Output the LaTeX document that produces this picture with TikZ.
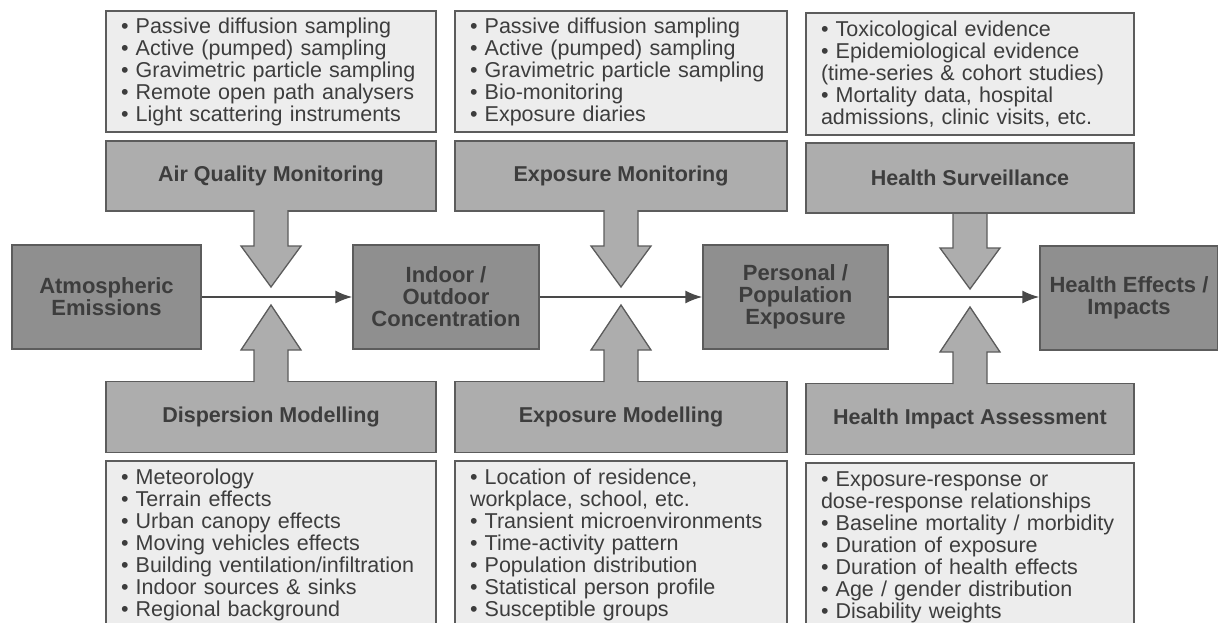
\documentclass[tikz,border=0pt]{standalone}
\usepackage{fontspec}
\setmainfont{Liberation Sans}
\usetikzlibrary{arrows.meta}
\definecolor{listgray}{gray}{0.93}
\definecolor{titlegray}{gray}{0.68}
\definecolor{stagegray}{gray}{0.56}
\definecolor{edgegray}{gray}{0.36}
\definecolor{inkgray}{gray}{0.24}
\tikzset{
  >={Latex[length=17pt,width=13pt]},
}
\tikzstyle{every node}=[text=inkgray]
\tikzstyle{listbox}=[draw=edgegray,fill=listgray,line width=1.3pt,align=left,
  inner xsep=15pt,inner ysep=0pt,font=\fontsize{21.5}{22}\selectfont]
\tikzstyle{titlebox}=[draw=edgegray,fill=titlegray,line width=1.3pt,
  font=\fontsize{21.5}{22}\selectfont\bfseries]
\tikzstyle{stage}=[draw=edgegray,fill=stagegray,line width=1.3pt,align=center,
  minimum height=104pt,font=\fontsize{22}{22}\selectfont\bfseries]
\tikzstyle{block}=[draw=edgegray,fill=titlegray,line width=1.3pt,line join=miter]
\tikzstyle{flow}=[line width=2pt,draw=edgegray!80!black,->]

\begin{document}
\begin{tikzpicture}[x=1pt,y=-1pt]
    \useasboundingbox (0,0) rectangle (1218,623);
    \clip (0,0) rectangle (1218,623);
    % main chain
    \node[stage,minimum width=189pt] (emis) at (106.5,297) {Atmospheric\\Emissions};
    \node[stage,minimum width=186pt] (conc) at (446,297) {Indoor /\\Outdoor\\Concentration};
    \node[stage,minimum width=185pt] (expo) at (795.5,297) {Personal /\\Population\\Exposure};
    \node[stage,minimum width=178pt] (hlth) at (1129,298) {Health Effects /\\Impacts};
    \draw[flow] (emis) -- (conc);
    \draw[flow] (conc) -- (expo);
    \draw[flow] (expo.east) -- (expo.east -| hlth.west);
    % monitoring side
    \node[listbox,text width=300pt,minimum height=121pt] (aqmlist) at (271,71.5) {%
      • Passive diffusion sampling\\
      • Active (pumped) sampling\\
      • Gravimetric particle sampling\\
      • Remote open path analysers\\
      • Light scattering instruments};
    \node[titlebox,minimum width=330pt,minimum height=70pt] (aqm) at (271,176) {Air Quality Monitoring};
    \node[listbox,text width=302pt,minimum height=121pt] (emlist) at (621,71.5) {%
      • Passive diffusion sampling\\
      • Active (pumped) sampling\\
      • Gravimetric particle sampling\\
      • Bio-monitoring\\
      • Exposure diaries};
    \node[titlebox,minimum width=332pt,minimum height=70pt] (em) at (621,176) {Exposure Monitoring};
    \node[listbox,text width=298pt,minimum height=122pt] (hslist) at (970,74) {%
      • Toxicological evidence\\
      • Epidemiological evidence\\
      (time-series \& cohort studies)\\
      • Mortality data, hospital\\
      admissions, clinic visits, etc.};
    \node[titlebox,minimum width=328pt,minimum height=70pt] (hs) at (970,178) {Health Surveillance};
    % modelling side
    \node[titlebox,minimum width=330pt,minimum height=71pt] (dm) at (271,417) {Dispersion Modelling};
    \node[listbox,text width=300pt,minimum height=168pt] (dmlist) at (271,545) {%
      • Meteorology\\
      • Terrain effects\\
      • Urban canopy effects\\
      • Moving vehicles effects\\
      • Building ventilation/infiltration\\
      • Indoor sources \& sinks\\
      • Regional background};
    \node[titlebox,minimum width=332pt,minimum height=71pt] (xm) at (621,417) {Exposure Modelling};
    \node[listbox,text width=302pt,minimum height=168pt] (xmlist) at (621,545) {%
      • Location of residence,\\
      workplace, school, etc.\\
      • Transient microenvironments\\
      • Time-activity pattern\\
      • Population distribution\\
      • Statistical person profile\\
      • Susceptible groups};
    \node[titlebox,minimum width=328pt,minimum height=71pt] (hia) at (970,419) {Health Impact Assessment};
    \node[listbox,text width=298pt,minimum height=168pt] (hialist) at (970,547) {%
      • Exposure-response or\\
      dose-response relationships\\
      • Baseline mortality / morbidity\\
      • Duration of exposure\\
      • Duration of health effects\\
      • Age / gender distribution\\
      • Disability weights};
    % block arrows onto the chain
    \coordinate (aqmtip) at (271,287);
    \coordinate (emtip) at (621,287);
    \coordinate (hstip) at (970,289);
    \coordinate (dmtip) at (271,305);
    \coordinate (xmtip) at (621,305);
    \coordinate (hiatip) at (970,307);
    \foreach \t in {aqmtip,emtip} {
      \draw[block] (\t) ++(-17,-77) -- ++(0,36) -- ++(-13,0) -- (\t)
        -- ++(30,-41) -- ++(-13,0) -- ++(0,-36);
    }
    \draw[block] (hstip) ++(-17,-75) -- ++(0,34) -- ++(-13,0) -- (hstip)
      -- ++(30,-41) -- ++(-13,0) -- ++(0,-34);
    \foreach \t in {dmtip,xmtip,hiatip} {
      \draw[block] (\t) ++(-17,77) -- ++(0,-32) -- ++(-13,0) -- (\t)
        -- ++(30,45) -- ++(-13,0) -- ++(0,32);
    }
  \end{tikzpicture}
\end{document}
